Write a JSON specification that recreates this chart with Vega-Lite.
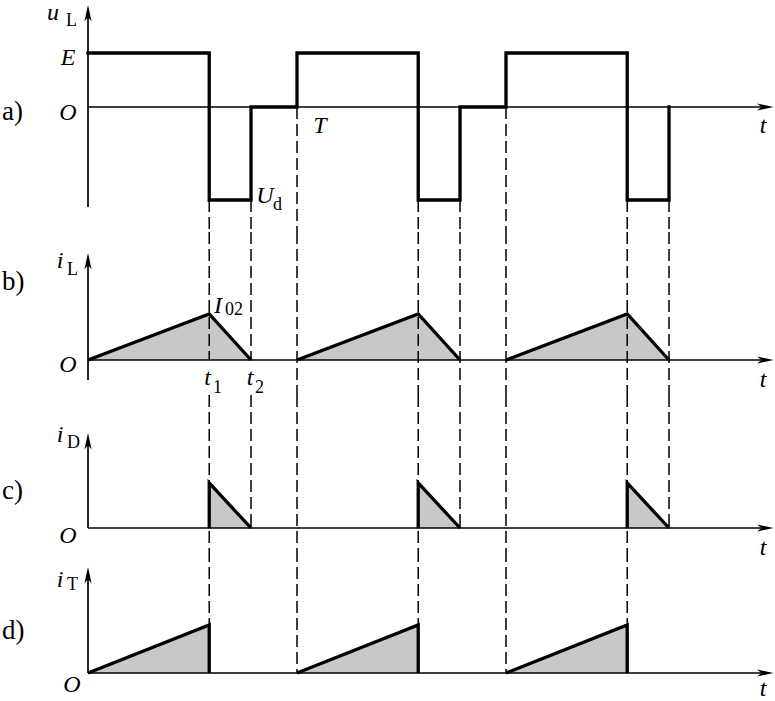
{
  "$schema": "https://vega.github.io/schema/vega-lite/v6.json",
  "padding": 0,
  "spacing": 0,
  "bounds": "flush",
  "config": {"view": {"stroke": null}, "text": {"font": "Liberation Serif", "color": "black"}},
  "datasets": {
    "wave": [
      {"panel": "a", "seg": "a", "ord": 1, "t": 0, "v": 1},
      {"panel": "a", "seg": "a", "ord": 2, "t": 0.58, "v": 1},
      {"panel": "a", "seg": "a", "ord": 3, "t": 0.58, "v": -1.7222},
      {"panel": "a", "seg": "a", "ord": 4, "t": 0.78, "v": -1.7222},
      {"panel": "a", "seg": "a", "ord": 5, "t": 0.78, "v": 0},
      {"panel": "a", "seg": "a", "ord": 6, "t": 1.0, "v": 0},
      {"panel": "a", "seg": "a", "ord": 7, "t": 1.0, "v": 1},
      {"panel": "a", "seg": "a", "ord": 8, "t": 1.58, "v": 1},
      {"panel": "a", "seg": "a", "ord": 9, "t": 1.58, "v": -1.7222},
      {"panel": "a", "seg": "a", "ord": 10, "t": 1.78, "v": -1.7222},
      {"panel": "a", "seg": "a", "ord": 11, "t": 1.78, "v": 0},
      {"panel": "a", "seg": "a", "ord": 12, "t": 2.0, "v": 0},
      {"panel": "a", "seg": "a", "ord": 13, "t": 2.0, "v": 1},
      {"panel": "a", "seg": "a", "ord": 14, "t": 2.58, "v": 1},
      {"panel": "a", "seg": "a", "ord": 15, "t": 2.58, "v": -1.7222},
      {"panel": "a", "seg": "a", "ord": 16, "t": 2.78, "v": -1.7222},
      {"panel": "a", "seg": "a", "ord": 17, "t": 2.78, "v": 0},
      {"panel": "b", "seg": "b1", "ord": 1, "t": 0, "v": 0},
      {"panel": "b", "seg": "b1", "ord": 2, "t": 0.58, "v": 1},
      {"panel": "b", "seg": "b1", "ord": 3, "t": 0.78, "v": 0},
      {"panel": "b", "seg": "b2", "ord": 1, "t": 1.0, "v": 0},
      {"panel": "b", "seg": "b2", "ord": 2, "t": 1.58, "v": 1},
      {"panel": "b", "seg": "b2", "ord": 3, "t": 1.78, "v": 0},
      {"panel": "b", "seg": "b3", "ord": 1, "t": 2.0, "v": 0},
      {"panel": "b", "seg": "b3", "ord": 2, "t": 2.58, "v": 1},
      {"panel": "b", "seg": "b3", "ord": 3, "t": 2.78, "v": 0},
      {"panel": "c", "seg": "c1", "ord": 1, "t": 0.58, "v": 0},
      {"panel": "c", "seg": "c1", "ord": 2, "t": 0.58, "v": 1},
      {"panel": "c", "seg": "c1", "ord": 3, "t": 0.78, "v": 0},
      {"panel": "c", "seg": "c2", "ord": 1, "t": 1.58, "v": 0},
      {"panel": "c", "seg": "c2", "ord": 2, "t": 1.58, "v": 1},
      {"panel": "c", "seg": "c2", "ord": 3, "t": 1.78, "v": 0},
      {"panel": "c", "seg": "c3", "ord": 1, "t": 2.58, "v": 0},
      {"panel": "c", "seg": "c3", "ord": 2, "t": 2.58, "v": 1},
      {"panel": "c", "seg": "c3", "ord": 3, "t": 2.78, "v": 0},
      {"panel": "d", "seg": "d1", "ord": 1, "t": 0, "v": 0},
      {"panel": "d", "seg": "d1", "ord": 2, "t": 0.58, "v": 1},
      {"panel": "d", "seg": "d1", "ord": 3, "t": 0.58, "v": 0},
      {"panel": "d", "seg": "d2", "ord": 1, "t": 1.0, "v": 0},
      {"panel": "d", "seg": "d2", "ord": 2, "t": 1.58, "v": 1},
      {"panel": "d", "seg": "d2", "ord": 3, "t": 1.58, "v": 0},
      {"panel": "d", "seg": "d3", "ord": 1, "t": 2.0, "v": 0},
      {"panel": "d", "seg": "d3", "ord": 2, "t": 2.58, "v": 1},
      {"panel": "d", "seg": "d3", "ord": 3, "t": 2.58, "v": 0}
    ],
    "fill": [
      {"panel": "b", "seg": "b1", "t": 0, "v": 0},
      {"panel": "b", "seg": "b1", "t": 0.58, "v": 1},
      {"panel": "b", "seg": "b1", "t": 0.78, "v": 0},
      {"panel": "b", "seg": "b2", "t": 1.0, "v": 0},
      {"panel": "b", "seg": "b2", "t": 1.58, "v": 1},
      {"panel": "b", "seg": "b2", "t": 1.78, "v": 0},
      {"panel": "b", "seg": "b3", "t": 2.0, "v": 0},
      {"panel": "b", "seg": "b3", "t": 2.58, "v": 1},
      {"panel": "b", "seg": "b3", "t": 2.78, "v": 0},
      {"panel": "c", "seg": "c1", "t": 0.58, "v": 1},
      {"panel": "c", "seg": "c1", "t": 0.78, "v": 0},
      {"panel": "c", "seg": "c2", "t": 1.58, "v": 1},
      {"panel": "c", "seg": "c2", "t": 1.78, "v": 0},
      {"panel": "c", "seg": "c3", "t": 2.58, "v": 1},
      {"panel": "c", "seg": "c3", "t": 2.78, "v": 0},
      {"panel": "d", "seg": "d1", "t": 0, "v": 0},
      {"panel": "d", "seg": "d1", "t": 0.58, "v": 1},
      {"panel": "d", "seg": "d2", "t": 1.0, "v": 0},
      {"panel": "d", "seg": "d2", "t": 1.58, "v": 1},
      {"panel": "d", "seg": "d3", "t": 2.0, "v": 0},
      {"panel": "d", "seg": "d3", "t": 2.58, "v": 1}
    ],
    "dash": [
      {"panel": "a", "t": 0.58, "v": -1.7222, "v2": -2.3148},
      {"panel": "a", "t": 0.78, "v": -1.7222, "v2": -2.3148},
      {"panel": "a", "t": 1.0, "v": 0, "v2": -2.3148},
      {"panel": "a", "t": 1.58, "v": -1.7222, "v2": -2.3148},
      {"panel": "a", "t": 1.78, "v": -1.7222, "v2": -2.3148},
      {"panel": "a", "t": 2.0, "v": 0, "v2": -2.3148},
      {"panel": "a", "t": 2.58, "v": -1.7222, "v2": -2.3148},
      {"panel": "a", "t": 2.78, "v": -1.7222, "v2": -2.3148},
      {"panel": "b", "t": 0.58, "v": 2.7826, "v2": 0},
      {"panel": "b", "t": 0.78, "v": 2.7826, "v2": 0},
      {"panel": "b", "t": 1.0, "v": 2.7826, "v2": -0.7609},
      {"panel": "b", "t": 1.58, "v": 2.7826, "v2": -0.7609},
      {"panel": "b", "t": 1.78, "v": 2.7826, "v2": -0.7609},
      {"panel": "b", "t": 2.0, "v": 2.7826, "v2": -0.7609},
      {"panel": "b", "t": 2.58, "v": 2.7826, "v2": -0.7609},
      {"panel": "b", "t": 2.78, "v": 2.7826, "v2": -0.7609},
      {"panel": "c", "t": 0.58, "v": 2.9556, "v2": -0.4889},
      {"panel": "c", "t": 0.78, "v": 2.9556, "v2": 0},
      {"panel": "c", "t": 1.0, "v": 2.9556, "v2": -0.4889},
      {"panel": "c", "t": 1.58, "v": 2.9556, "v2": -0.4889},
      {"panel": "c", "t": 1.78, "v": 2.9556, "v2": 0},
      {"panel": "c", "t": 2.0, "v": 2.9556, "v2": -0.4889},
      {"panel": "c", "t": 2.58, "v": 2.9556, "v2": -0.4889},
      {"panel": "c", "t": 2.78, "v": 2.9556, "v2": 0},
      {"panel": "d", "t": 0.58, "v": 2.5625, "v2": 1},
      {"panel": "d", "t": 1.0, "v": 2.5625, "v2": 0},
      {"panel": "d", "t": 1.58, "v": 2.5625, "v2": 1},
      {"panel": "d", "t": 2.0, "v": 2.5625, "v2": 0},
      {"panel": "d", "t": 2.58, "v": 2.5625, "v2": 1}
    ],
    "axes": [
      {"panel": "a", "t": 0, "t2": 3.24, "v": 0, "v2": 0},
      {"panel": "a", "t": 0, "t2": 0, "v": -1.852, "v2": 1.75},
      {"panel": "b", "t": 0, "t2": 3.24, "v": 0, "v2": 0},
      {"panel": "b", "t": 0, "t2": 0, "v": -0.4348, "v2": 2.2},
      {"panel": "c", "t": 0, "t2": 3.24, "v": 0, "v2": 0},
      {"panel": "c", "t": 0, "t2": 0, "v": 0, "v2": 2.0},
      {"panel": "d", "t": 0, "t2": 3.24, "v": 0, "v2": 0},
      {"panel": "d", "t": 0, "t2": 0, "v": 0, "v2": 2.1}
    ],
    "arrowUp": [
      {"panel": "a", "t": 0, "v": 1.889},
      {"panel": "b", "t": 0, "v": 2.326},
      {"panel": "c", "t": 0, "v": 2.111},
      {"panel": "d", "t": 0, "v": 2.208}
    ],
    "arrowRight": [
      {"panel": "a", "t": 3.28, "v": 0},
      {"panel": "b", "t": 3.28, "v": 0},
      {"panel": "c", "t": 3.28, "v": 0},
      {"panel": "d", "t": 3.28, "v": 0}
    ],
    "labels": [
      {"panel": "a", "role": "sym", "t": -0.1675, "v": 1.611, "text": "u"},
      {"panel": "a", "role": "sub", "t": -0.1053, "v": 1.5, "text": "L"},
      {"panel": "a", "role": "sym", "t": -0.0957, "v": 0.7778, "text": "E"},
      {"panel": "a", "role": "sym", "t": -0.0957, "v": -0.2407, "text": "O"},
      {"panel": "a", "role": "sym", "t": 1.11, "v": -0.4815, "text": "T"},
      {"panel": "a", "role": "sym", "t": 0.8469, "v": -1.7778, "text": "U"},
      {"panel": "a", "role": "sub", "t": 0.8852, "v": -1.907, "text": "d"},
      {"panel": "a", "role": "sym", "t": 3.2297, "v": -0.4815, "text": "t"},
      {"panel": "a", "role": "panel", "t": -0.4115, "v": -0.2407, "text": "a)"},
      {"panel": "b", "role": "sym", "t": -0.134, "v": 2.0, "text": "i"},
      {"panel": "b", "role": "sub", "t": -0.1005, "v": 1.848, "text": "L"},
      {"panel": "b", "role": "sym", "t": -0.0957, "v": -0.261, "text": "O"},
      {"panel": "b", "role": "sym", "t": 0.622, "v": 1.0217, "text": "I"},
      {"panel": "b", "role": "sub", "t": 0.6555, "v": 0.978, "text": "02"},
      {"panel": "b", "role": "sym", "t": 0.5718, "v": -0.543, "text": "t"},
      {"panel": "b", "role": "sub", "t": 0.598, "v": -0.717, "text": "1"},
      {"panel": "b", "role": "sym", "t": 0.775, "v": -0.543, "text": "t"},
      {"panel": "b", "role": "sub", "t": 0.799, "v": -0.717, "text": "2"},
      {"panel": "b", "role": "sym", "t": 3.2297, "v": -0.587, "text": "t"},
      {"panel": "b", "role": "panel", "t": -0.4115, "v": 1.522, "text": "b)"},
      {"panel": "c", "role": "sym", "t": -0.134, "v": 1.911, "text": "i"},
      {"panel": "c", "role": "sub", "t": -0.1005, "v": 1.778, "text": "D"},
      {"panel": "c", "role": "sym", "t": -0.0957, "v": -0.333, "text": "O"},
      {"panel": "c", "role": "sym", "t": 3.2297, "v": -0.6, "text": "t"},
      {"panel": "c", "role": "panel", "t": -0.4115, "v": 0.644, "text": "c)"},
      {"panel": "d", "role": "sym", "t": -0.134, "v": 1.792, "text": "i"},
      {"panel": "d", "role": "sub", "t": -0.1005, "v": 1.729, "text": "T"},
      {"panel": "d", "role": "sym", "t": -0.0766, "v": -0.396, "text": "O"},
      {"panel": "d", "role": "sym", "t": 3.2297, "v": -0.479, "text": "t"},
      {"panel": "d", "role": "panel", "t": -0.4115, "v": 0.708, "text": "d)"}
    ]
  },
  "vconcat": [
    {
      "width": 775, "height": 232,
      "layer": [
        {"data": {"name": "dash"}, "transform": [{"filter": "datum.panel=='a'"}], "mark": {"type": "rule", "color": "black", "strokeWidth": 1.5, "strokeDash": [12, 5]},
         "encoding": {"x": {"field": "t", "type": "quantitative", "scale": {"domain": [-0.4211, 3.2871], "nice": false, "zero": false}, "axis": null},
                      "y": {"field": "v", "type": "quantitative", "scale": {"domain": [-2.3148, 1.9815], "nice": false, "zero": false}, "axis": null},
                      "y2": {"field": "v2"}}},
        {"data": {"name": "axes"}, "transform": [{"filter": "datum.panel=='a'"}], "mark": {"type": "rule", "color": "black", "strokeWidth": 1.7},
         "encoding": {"x": {"field": "t", "type": "quantitative", "scale": {"domain": [-0.4211, 3.2871], "nice": false, "zero": false}, "axis": null},
                      "x2": {"field": "t2"},
                      "y": {"field": "v", "type": "quantitative", "scale": {"domain": [-2.3148, 1.9815], "nice": false, "zero": false}, "axis": null},
                      "y2": {"field": "v2"}}},
        {"data": {"name": "arrowUp"}, "transform": [{"filter": "datum.panel=='a'"}], "mark": {"type": "point", "shape": "M0,0L-0.24,1.1L0,0.8L0.24,1.1Z", "filled": true, "color": "black", "opacity": 1, "size": 900},
         "encoding": {"x": {"field": "t", "type": "quantitative", "scale": {"domain": [-0.4211, 3.2871], "nice": false, "zero": false}, "axis": null},
                      "y": {"field": "v", "type": "quantitative", "scale": {"domain": [-2.3148, 1.9815], "nice": false, "zero": false}, "axis": null}}},
        {"data": {"name": "arrowRight"}, "transform": [{"filter": "datum.panel=='a'"}], "mark": {"type": "point", "shape": "M0,0L-1.1,-0.24L-0.8,0L-1.1,0.24Z", "filled": true, "color": "black", "opacity": 1, "size": 900},
         "encoding": {"x": {"field": "t", "type": "quantitative", "scale": {"domain": [-0.4211, 3.2871], "nice": false, "zero": false}, "axis": null},
                      "y": {"field": "v", "type": "quantitative", "scale": {"domain": [-2.3148, 1.9815], "nice": false, "zero": false}, "axis": null}}},
        {"data": {"name": "wave"}, "transform": [{"filter": "datum.panel=='a'"}], "mark": {"type": "line", "color": "black", "strokeWidth": 3.3, "strokeJoin": "miter", "strokeCap": "square"},
         "encoding": {"x": {"field": "t", "type": "quantitative", "scale": {"domain": [-0.4211, 3.2871], "nice": false, "zero": false}, "axis": null},
                      "y": {"field": "v", "type": "quantitative", "scale": {"domain": [-2.3148, 1.9815], "nice": false, "zero": false}, "axis": null},
                      "detail": {"field": "seg"}, "order": {"field": "ord", "type": "quantitative"}}},
        {"data": {"name": "labels"}, "transform": [{"filter": "datum.panel=='a' && datum.role=='sym'"}], "mark": {"type": "text", "font": "Liberation Serif", "fontStyle": "italic", "fontSize": 24, "align": "center", "baseline": "alphabetic", "color": "black"},
         "encoding": {"x": {"field": "t", "type": "quantitative", "scale": {"domain": [-0.4211, 3.2871], "nice": false, "zero": false}, "axis": null},
                      "y": {"field": "v", "type": "quantitative", "scale": {"domain": [-2.3148, 1.9815], "nice": false, "zero": false}, "axis": null},
                      "text": {"field": "text"}}},
        {"data": {"name": "labels"}, "transform": [{"filter": "datum.panel=='a' && datum.role=='sub'"}], "mark": {"type": "text", "font": "Liberation Serif", "fontSize": 18, "align": "left", "baseline": "alphabetic", "color": "black"},
         "encoding": {"x": {"field": "t", "type": "quantitative", "scale": {"domain": [-0.4211, 3.2871], "nice": false, "zero": false}, "axis": null},
                      "y": {"field": "v", "type": "quantitative", "scale": {"domain": [-2.3148, 1.9815], "nice": false, "zero": false}, "axis": null},
                      "text": {"field": "text"}}},
        {"data": {"name": "labels"}, "transform": [{"filter": "datum.panel=='a' && datum.role=='panel'"}], "mark": {"type": "text", "font": "Liberation Serif", "fontSize": 27, "align": "left", "baseline": "alphabetic", "color": "black"},
         "encoding": {"x": {"field": "t", "type": "quantitative", "scale": {"domain": [-0.4211, 3.2871], "nice": false, "zero": false}, "axis": null},
                      "y": {"field": "v", "type": "quantitative", "scale": {"domain": [-2.3148, 1.9815], "nice": false, "zero": false}, "axis": null},
                      "text": {"field": "text"}}}
      ]
    },
    {
      "width": 775, "height": 163,
      "layer": [
        {"data": {"name": "fill"}, "transform": [{"filter": "datum.panel=='b'"}], "mark": {"type": "area", "color": "#c8c8c8", "opacity": 1},
         "encoding": {"x": {"field": "t", "type": "quantitative", "scale": {"domain": [-0.4211, 3.2871], "nice": false, "zero": false}, "axis": null},
                      "y": {"field": "v", "type": "quantitative", "scale": {"domain": [-0.7609, 2.7826], "nice": false, "zero": false}, "axis": null},
                      "y2": {"datum": 0}, "detail": {"field": "seg"}}},
        {"data": {"name": "dash"}, "transform": [{"filter": "datum.panel=='b'"}], "mark": {"type": "rule", "color": "black", "strokeWidth": 1.5, "strokeDash": [12, 5]},
         "encoding": {"x": {"field": "t", "type": "quantitative", "scale": {"domain": [-0.4211, 3.2871], "nice": false, "zero": false}, "axis": null},
                      "y": {"field": "v", "type": "quantitative", "scale": {"domain": [-0.7609, 2.7826], "nice": false, "zero": false}, "axis": null},
                      "y2": {"field": "v2"}}},
        {"data": {"name": "axes"}, "transform": [{"filter": "datum.panel=='b'"}], "mark": {"type": "rule", "color": "black", "strokeWidth": 1.7},
         "encoding": {"x": {"field": "t", "type": "quantitative", "scale": {"domain": [-0.4211, 3.2871], "nice": false, "zero": false}, "axis": null},
                      "x2": {"field": "t2"},
                      "y": {"field": "v", "type": "quantitative", "scale": {"domain": [-0.7609, 2.7826], "nice": false, "zero": false}, "axis": null},
                      "y2": {"field": "v2"}}},
        {"data": {"name": "arrowUp"}, "transform": [{"filter": "datum.panel=='b'"}], "mark": {"type": "point", "shape": "M0,0L-0.24,1.1L0,0.8L0.24,1.1Z", "filled": true, "color": "black", "opacity": 1, "size": 900},
         "encoding": {"x": {"field": "t", "type": "quantitative", "scale": {"domain": [-0.4211, 3.2871], "nice": false, "zero": false}, "axis": null},
                      "y": {"field": "v", "type": "quantitative", "scale": {"domain": [-0.7609, 2.7826], "nice": false, "zero": false}, "axis": null}}},
        {"data": {"name": "arrowRight"}, "transform": [{"filter": "datum.panel=='b'"}], "mark": {"type": "point", "shape": "M0,0L-1.1,-0.24L-0.8,0L-1.1,0.24Z", "filled": true, "color": "black", "opacity": 1, "size": 900},
         "encoding": {"x": {"field": "t", "type": "quantitative", "scale": {"domain": [-0.4211, 3.2871], "nice": false, "zero": false}, "axis": null},
                      "y": {"field": "v", "type": "quantitative", "scale": {"domain": [-0.7609, 2.7826], "nice": false, "zero": false}, "axis": null}}},
        {"data": {"name": "wave"}, "transform": [{"filter": "datum.panel=='b'"}], "mark": {"type": "line", "color": "black", "strokeWidth": 3.3, "strokeJoin": "miter", "strokeCap": "butt"},
         "encoding": {"x": {"field": "t", "type": "quantitative", "scale": {"domain": [-0.4211, 3.2871], "nice": false, "zero": false}, "axis": null},
                      "y": {"field": "v", "type": "quantitative", "scale": {"domain": [-0.7609, 2.7826], "nice": false, "zero": false}, "axis": null},
                      "detail": {"field": "seg"}, "order": {"field": "ord", "type": "quantitative"}}},
        {"data": {"name": "labels"}, "transform": [{"filter": "datum.panel=='b' && datum.role=='sym'"}], "mark": {"type": "text", "font": "Liberation Serif", "fontStyle": "italic", "fontSize": 24, "align": "center", "baseline": "alphabetic", "color": "black"},
         "encoding": {"x": {"field": "t", "type": "quantitative", "scale": {"domain": [-0.4211, 3.2871], "nice": false, "zero": false}, "axis": null},
                      "y": {"field": "v", "type": "quantitative", "scale": {"domain": [-0.7609, 2.7826], "nice": false, "zero": false}, "axis": null},
                      "text": {"field": "text"}}},
        {"data": {"name": "labels"}, "transform": [{"filter": "datum.panel=='b' && datum.role=='sub'"}], "mark": {"type": "text", "font": "Liberation Serif", "fontSize": 18, "align": "left", "baseline": "alphabetic", "color": "black"},
         "encoding": {"x": {"field": "t", "type": "quantitative", "scale": {"domain": [-0.4211, 3.2871], "nice": false, "zero": false}, "axis": null},
                      "y": {"field": "v", "type": "quantitative", "scale": {"domain": [-0.7609, 2.7826], "nice": false, "zero": false}, "axis": null},
                      "text": {"field": "text"}}},
        {"data": {"name": "labels"}, "transform": [{"filter": "datum.panel=='b' && datum.role=='panel'"}], "mark": {"type": "text", "font": "Liberation Serif", "fontSize": 27, "align": "left", "baseline": "alphabetic", "color": "black"},
         "encoding": {"x": {"field": "t", "type": "quantitative", "scale": {"domain": [-0.4211, 3.2871], "nice": false, "zero": false}, "axis": null},
                      "y": {"field": "v", "type": "quantitative", "scale": {"domain": [-0.7609, 2.7826], "nice": false, "zero": false}, "axis": null},
                      "text": {"field": "text"}}}
      ]
    },
    {
      "width": 775, "height": 155,
      "layer": [
        {"data": {"name": "fill"}, "transform": [{"filter": "datum.panel=='c'"}], "mark": {"type": "area", "color": "#c8c8c8", "opacity": 1},
         "encoding": {"x": {"field": "t", "type": "quantitative", "scale": {"domain": [-0.4211, 3.2871], "nice": false, "zero": false}, "axis": null},
                      "y": {"field": "v", "type": "quantitative", "scale": {"domain": [-0.4889, 2.9556], "nice": false, "zero": false}, "axis": null},
                      "y2": {"datum": 0}, "detail": {"field": "seg"}}},
        {"data": {"name": "dash"}, "transform": [{"filter": "datum.panel=='c'"}], "mark": {"type": "rule", "color": "black", "strokeWidth": 1.5, "strokeDash": [12, 5]},
         "encoding": {"x": {"field": "t", "type": "quantitative", "scale": {"domain": [-0.4211, 3.2871], "nice": false, "zero": false}, "axis": null},
                      "y": {"field": "v", "type": "quantitative", "scale": {"domain": [-0.4889, 2.9556], "nice": false, "zero": false}, "axis": null},
                      "y2": {"field": "v2"}}},
        {"data": {"name": "axes"}, "transform": [{"filter": "datum.panel=='c'"}], "mark": {"type": "rule", "color": "black", "strokeWidth": 1.7},
         "encoding": {"x": {"field": "t", "type": "quantitative", "scale": {"domain": [-0.4211, 3.2871], "nice": false, "zero": false}, "axis": null},
                      "x2": {"field": "t2"},
                      "y": {"field": "v", "type": "quantitative", "scale": {"domain": [-0.4889, 2.9556], "nice": false, "zero": false}, "axis": null},
                      "y2": {"field": "v2"}}},
        {"data": {"name": "arrowUp"}, "transform": [{"filter": "datum.panel=='c'"}], "mark": {"type": "point", "shape": "M0,0L-0.24,1.1L0,0.8L0.24,1.1Z", "filled": true, "color": "black", "opacity": 1, "size": 900},
         "encoding": {"x": {"field": "t", "type": "quantitative", "scale": {"domain": [-0.4211, 3.2871], "nice": false, "zero": false}, "axis": null},
                      "y": {"field": "v", "type": "quantitative", "scale": {"domain": [-0.4889, 2.9556], "nice": false, "zero": false}, "axis": null}}},
        {"data": {"name": "arrowRight"}, "transform": [{"filter": "datum.panel=='c'"}], "mark": {"type": "point", "shape": "M0,0L-1.1,-0.24L-0.8,0L-1.1,0.24Z", "filled": true, "color": "black", "opacity": 1, "size": 900},
         "encoding": {"x": {"field": "t", "type": "quantitative", "scale": {"domain": [-0.4211, 3.2871], "nice": false, "zero": false}, "axis": null},
                      "y": {"field": "v", "type": "quantitative", "scale": {"domain": [-0.4889, 2.9556], "nice": false, "zero": false}, "axis": null}}},
        {"data": {"name": "wave"}, "transform": [{"filter": "datum.panel=='c'"}], "mark": {"type": "line", "color": "black", "strokeWidth": 3.3, "strokeJoin": "miter", "strokeCap": "butt"},
         "encoding": {"x": {"field": "t", "type": "quantitative", "scale": {"domain": [-0.4211, 3.2871], "nice": false, "zero": false}, "axis": null},
                      "y": {"field": "v", "type": "quantitative", "scale": {"domain": [-0.4889, 2.9556], "nice": false, "zero": false}, "axis": null},
                      "detail": {"field": "seg"}, "order": {"field": "ord", "type": "quantitative"}}},
        {"data": {"name": "labels"}, "transform": [{"filter": "datum.panel=='c' && datum.role=='sym'"}], "mark": {"type": "text", "font": "Liberation Serif", "fontStyle": "italic", "fontSize": 24, "align": "center", "baseline": "alphabetic", "color": "black"},
         "encoding": {"x": {"field": "t", "type": "quantitative", "scale": {"domain": [-0.4211, 3.2871], "nice": false, "zero": false}, "axis": null},
                      "y": {"field": "v", "type": "quantitative", "scale": {"domain": [-0.4889, 2.9556], "nice": false, "zero": false}, "axis": null},
                      "text": {"field": "text"}}},
        {"data": {"name": "labels"}, "transform": [{"filter": "datum.panel=='c' && datum.role=='sub'"}], "mark": {"type": "text", "font": "Liberation Serif", "fontSize": 18, "align": "left", "baseline": "alphabetic", "color": "black"},
         "encoding": {"x": {"field": "t", "type": "quantitative", "scale": {"domain": [-0.4211, 3.2871], "nice": false, "zero": false}, "axis": null},
                      "y": {"field": "v", "type": "quantitative", "scale": {"domain": [-0.4889, 2.9556], "nice": false, "zero": false}, "axis": null},
                      "text": {"field": "text"}}},
        {"data": {"name": "labels"}, "transform": [{"filter": "datum.panel=='c' && datum.role=='panel'"}], "mark": {"type": "text", "font": "Liberation Serif", "fontSize": 27, "align": "left", "baseline": "alphabetic", "color": "black"},
         "encoding": {"x": {"field": "t", "type": "quantitative", "scale": {"domain": [-0.4211, 3.2871], "nice": false, "zero": false}, "axis": null},
                      "y": {"field": "v", "type": "quantitative", "scale": {"domain": [-0.4889, 2.9556], "nice": false, "zero": false}, "axis": null},
                      "text": {"field": "text"}}}
      ]
    },
    {
      "width": 775, "height": 151,
      "layer": [
        {"data": {"name": "fill"}, "transform": [{"filter": "datum.panel=='d'"}], "mark": {"type": "area", "color": "#c8c8c8", "opacity": 1},
         "encoding": {"x": {"field": "t", "type": "quantitative", "scale": {"domain": [-0.4211, 3.2871], "nice": false, "zero": false}, "axis": null},
                      "y": {"field": "v", "type": "quantitative", "scale": {"domain": [-0.5833, 2.5625], "nice": false, "zero": false}, "axis": null},
                      "y2": {"datum": 0}, "detail": {"field": "seg"}}},
        {"data": {"name": "dash"}, "transform": [{"filter": "datum.panel=='d'"}], "mark": {"type": "rule", "color": "black", "strokeWidth": 1.5, "strokeDash": [12, 5]},
         "encoding": {"x": {"field": "t", "type": "quantitative", "scale": {"domain": [-0.4211, 3.2871], "nice": false, "zero": false}, "axis": null},
                      "y": {"field": "v", "type": "quantitative", "scale": {"domain": [-0.5833, 2.5625], "nice": false, "zero": false}, "axis": null},
                      "y2": {"field": "v2"}}},
        {"data": {"name": "axes"}, "transform": [{"filter": "datum.panel=='d'"}], "mark": {"type": "rule", "color": "black", "strokeWidth": 1.7},
         "encoding": {"x": {"field": "t", "type": "quantitative", "scale": {"domain": [-0.4211, 3.2871], "nice": false, "zero": false}, "axis": null},
                      "x2": {"field": "t2"},
                      "y": {"field": "v", "type": "quantitative", "scale": {"domain": [-0.5833, 2.5625], "nice": false, "zero": false}, "axis": null},
                      "y2": {"field": "v2"}}},
        {"data": {"name": "arrowUp"}, "transform": [{"filter": "datum.panel=='d'"}], "mark": {"type": "point", "shape": "M0,0L-0.24,1.1L0,0.8L0.24,1.1Z", "filled": true, "color": "black", "opacity": 1, "size": 900},
         "encoding": {"x": {"field": "t", "type": "quantitative", "scale": {"domain": [-0.4211, 3.2871], "nice": false, "zero": false}, "axis": null},
                      "y": {"field": "v", "type": "quantitative", "scale": {"domain": [-0.5833, 2.5625], "nice": false, "zero": false}, "axis": null}}},
        {"data": {"name": "arrowRight"}, "transform": [{"filter": "datum.panel=='d'"}], "mark": {"type": "point", "shape": "M0,0L-1.1,-0.24L-0.8,0L-1.1,0.24Z", "filled": true, "color": "black", "opacity": 1, "size": 900},
         "encoding": {"x": {"field": "t", "type": "quantitative", "scale": {"domain": [-0.4211, 3.2871], "nice": false, "zero": false}, "axis": null},
                      "y": {"field": "v", "type": "quantitative", "scale": {"domain": [-0.5833, 2.5625], "nice": false, "zero": false}, "axis": null}}},
        {"data": {"name": "wave"}, "transform": [{"filter": "datum.panel=='d'"}], "mark": {"type": "line", "color": "black", "strokeWidth": 3.3, "strokeJoin": "miter", "strokeCap": "butt"},
         "encoding": {"x": {"field": "t", "type": "quantitative", "scale": {"domain": [-0.4211, 3.2871], "nice": false, "zero": false}, "axis": null},
                      "y": {"field": "v", "type": "quantitative", "scale": {"domain": [-0.5833, 2.5625], "nice": false, "zero": false}, "axis": null},
                      "detail": {"field": "seg"}, "order": {"field": "ord", "type": "quantitative"}}},
        {"data": {"name": "labels"}, "transform": [{"filter": "datum.panel=='d' && datum.role=='sym'"}], "mark": {"type": "text", "font": "Liberation Serif", "fontStyle": "italic", "fontSize": 24, "align": "center", "baseline": "alphabetic", "color": "black"},
         "encoding": {"x": {"field": "t", "type": "quantitative", "scale": {"domain": [-0.4211, 3.2871], "nice": false, "zero": false}, "axis": null},
                      "y": {"field": "v", "type": "quantitative", "scale": {"domain": [-0.5833, 2.5625], "nice": false, "zero": false}, "axis": null},
                      "text": {"field": "text"}}},
        {"data": {"name": "labels"}, "transform": [{"filter": "datum.panel=='d' && datum.role=='sub'"}], "mark": {"type": "text", "font": "Liberation Serif", "fontSize": 18, "align": "left", "baseline": "alphabetic", "color": "black"},
         "encoding": {"x": {"field": "t", "type": "quantitative", "scale": {"domain": [-0.4211, 3.2871], "nice": false, "zero": false}, "axis": null},
                      "y": {"field": "v", "type": "quantitative", "scale": {"domain": [-0.5833, 2.5625], "nice": false, "zero": false}, "axis": null},
                      "text": {"field": "text"}}},
        {"data": {"name": "labels"}, "transform": [{"filter": "datum.panel=='d' && datum.role=='panel'"}], "mark": {"type": "text", "font": "Liberation Serif", "fontSize": 27, "align": "left", "baseline": "alphabetic", "color": "black"},
         "encoding": {"x": {"field": "t", "type": "quantitative", "scale": {"domain": [-0.4211, 3.2871], "nice": false, "zero": false}, "axis": null},
                      "y": {"field": "v", "type": "quantitative", "scale": {"domain": [-0.5833, 2.5625], "nice": false, "zero": false}, "axis": null},
                      "text": {"field": "text"}}}
      ]
    }
  ]
}
